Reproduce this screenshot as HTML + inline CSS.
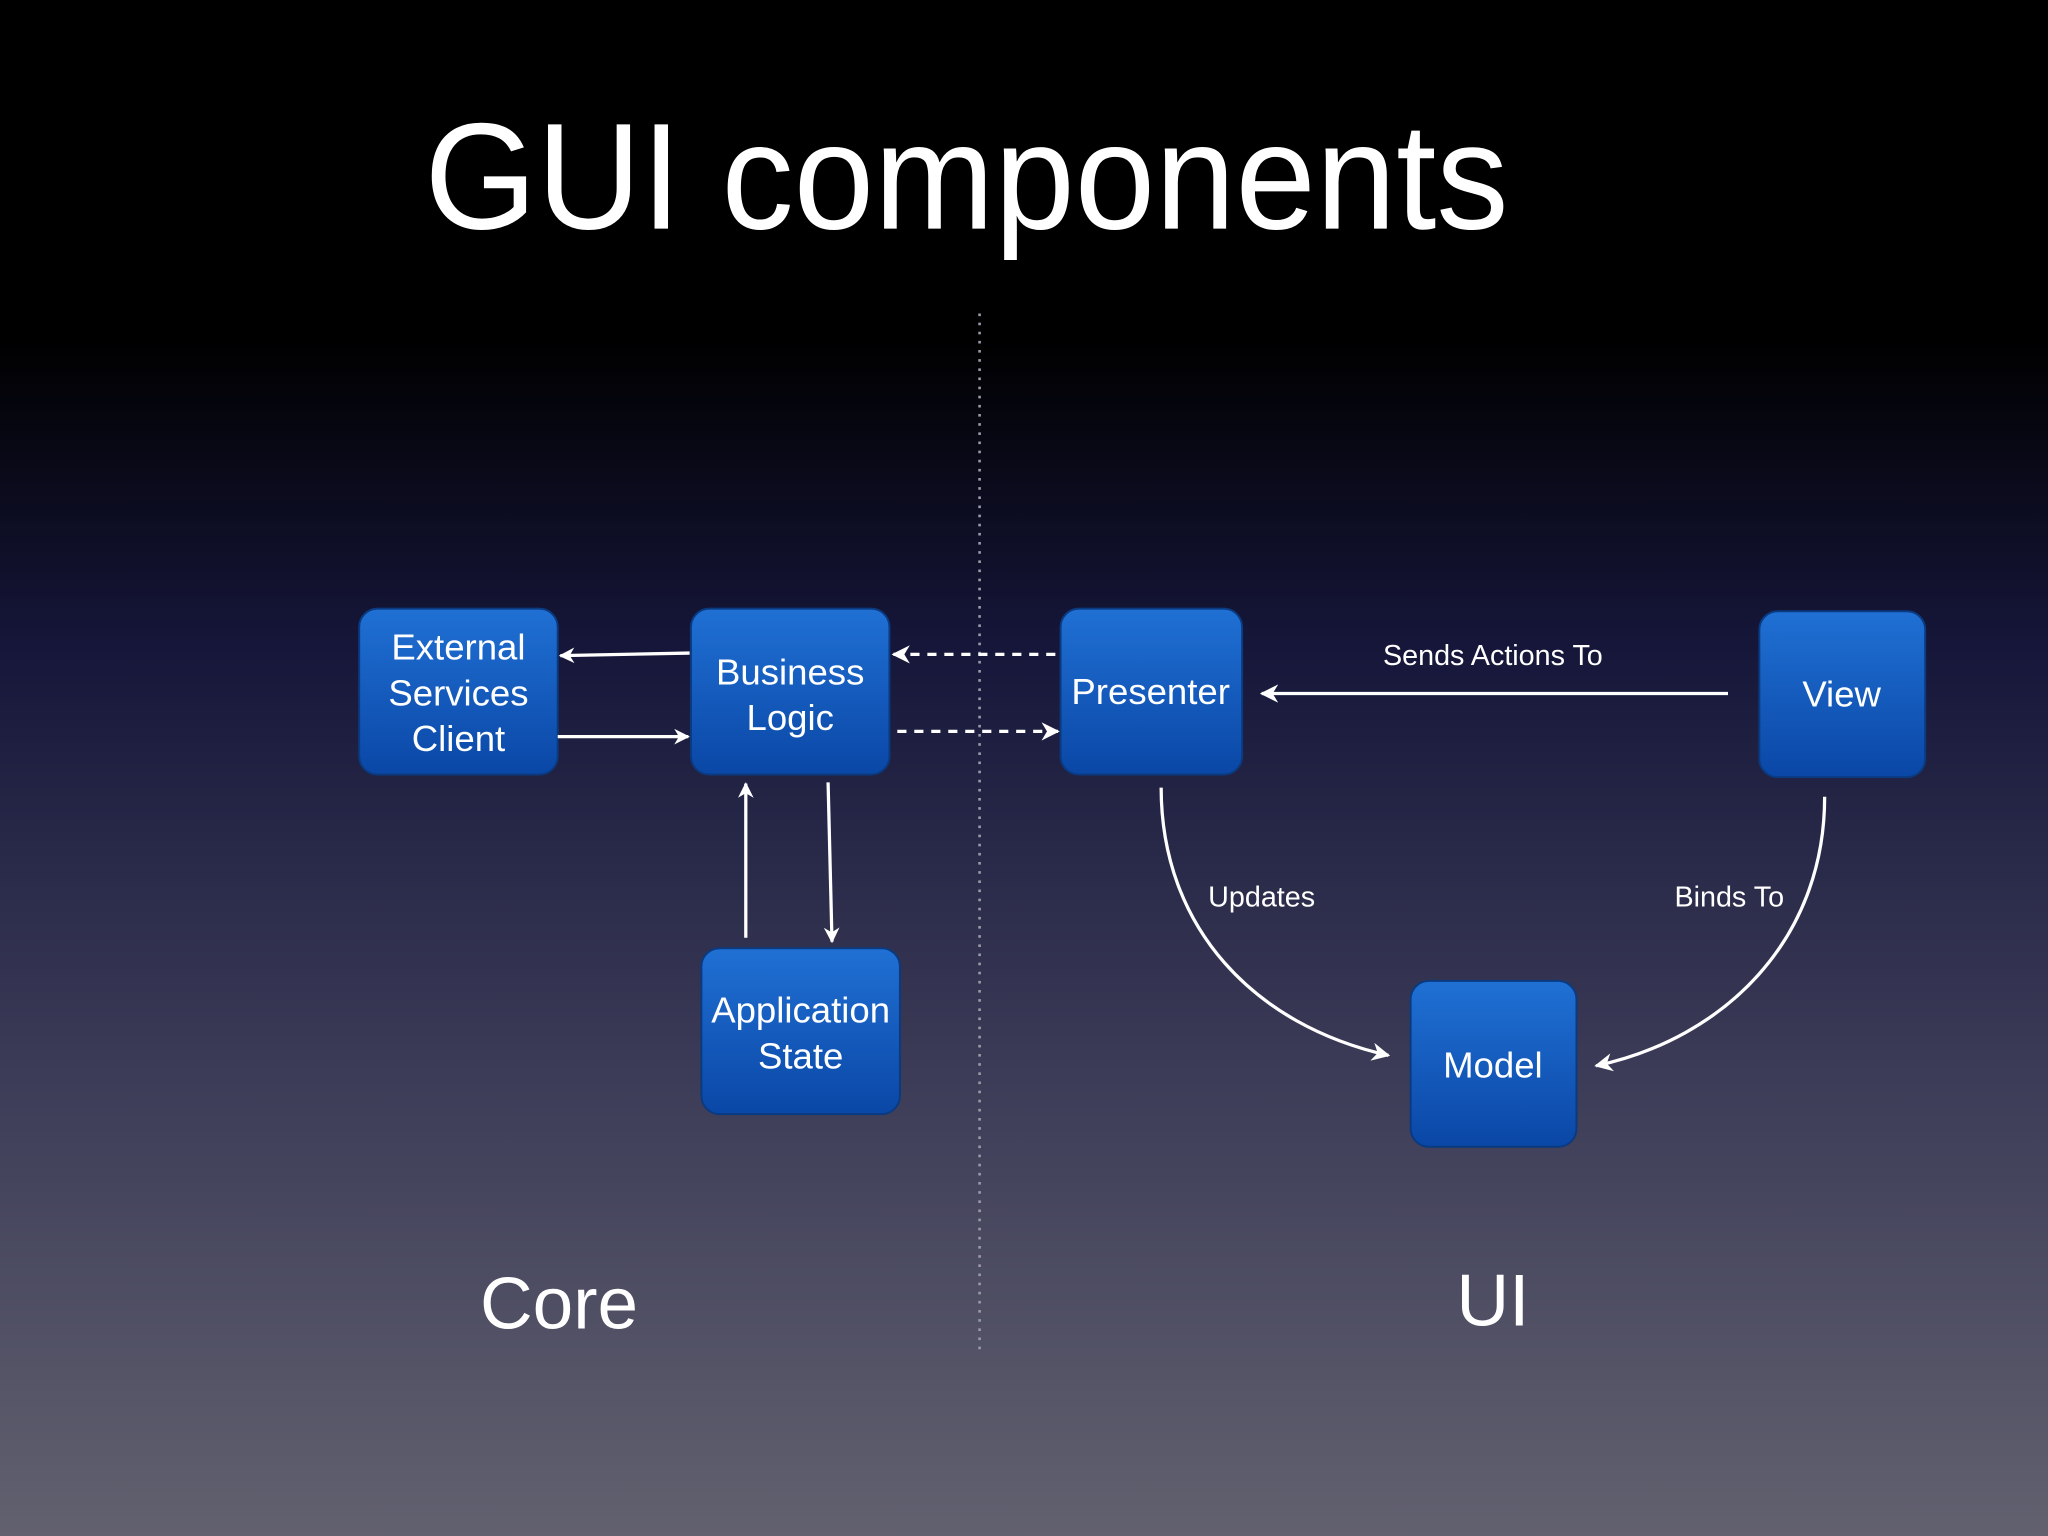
<!DOCTYPE html>
<html><head><meta charset="utf-8"><style>
html,body{margin:0;padding:0;width:2048px;height:1536px;overflow:hidden;background:#000}
svg{display:block}
text{font-family:"Liberation Sans",sans-serif;fill:#fff}
</style></head><body>
<svg width="2048" height="1536" viewBox="0 0 1568 1176" xmlns="http://www.w3.org/2000/svg">
<defs>
<linearGradient id="bg" x1="0" y1="0" x2="0" y2="1">
<stop offset="0" stop-color="#000"/>
<stop offset="0.22" stop-color="#000"/>
<stop offset="0.42" stop-color="#16163a"/>
<stop offset="0.7" stop-color="#3c3c58"/>
<stop offset="1" stop-color="#62616f"/>
</linearGradient>
<linearGradient id="bx" x1="0" y1="0" x2="0" y2="1">
<stop offset="0" stop-color="#2070d4"/>
<stop offset="1" stop-color="#0a47a6"/>
</linearGradient>
<marker id="ah" viewBox="0 0 10 10" refX="9" refY="5" markerWidth="12" markerHeight="12" orient="auto" markerUnits="userSpaceOnUse"><path d="M0,0 L10,5 L0,10 L3,5 Z" fill="#fff"/></marker>
<marker id="ah2" viewBox="0 0 10 10" refX="9" refY="5" markerWidth="14" markerHeight="14" orient="auto" markerUnits="userSpaceOnUse"><path d="M0,0 L10,5 L0,10 L3,5 Z" fill="#fff"/></marker>
</defs>
<rect width="1568" height="1176" fill="url(#bg)"/>
<text x="740" y="175" font-size="116" text-anchor="middle" textLength="830" lengthAdjust="spacingAndGlyphs">GUI components</text>
<line x1="750" y1="240" x2="750" y2="1035" stroke="#9a9aa8" stroke-width="2" stroke-dasharray="2,5"/>
<g fill="url(#bx)" stroke="#0a3a80" stroke-width="1.5">
<rect x="275" y="466" width="152" height="127" rx="14"/>
<rect x="529" y="466" width="152" height="127" rx="14"/>
<rect x="537" y="726" width="152" height="127" rx="14"/>
<rect x="812" y="466" width="139" height="127" rx="14"/>
<rect x="1347" y="468" width="127" height="127" rx="14"/>
<rect x="1080" y="751" width="127" height="127" rx="14"/>
</g>
<g font-size="28" text-anchor="middle">
<text x="351" y="505">External</text><text x="351" y="540">Services</text><text x="351" y="575">Client</text>
<text x="605" y="524">Business</text><text x="605" y="559">Logic</text>
<text x="613" y="783">Application</text><text x="613" y="818">State</text>
<text x="881" y="539">Presenter</text>
<text x="1410" y="541">View</text>
<text x="1143" y="825">Model</text>
</g>
<g stroke="#fff" stroke-width="2.5" fill="none">
<line x1="528" y1="500" x2="429" y2="502" marker-end="url(#ah)"/>
<line x1="427" y1="564" x2="527" y2="564" marker-end="url(#ah)"/>
<line x1="808" y1="501" x2="684" y2="501" stroke-dasharray="7,6" marker-end="url(#ah2)"/>
<line x1="687" y1="560" x2="810" y2="560" stroke-dasharray="7,6" marker-end="url(#ah2)"/>
<line x1="1323" y1="531" x2="966" y2="531" marker-end="url(#ah2)"/>
<line x1="571" y1="718" x2="571" y2="600" marker-end="url(#ah)"/>
<line x1="634" y1="599" x2="637" y2="721" marker-end="url(#ah)"/>
<path d="M889,603 C889,710 960,785 1063,808" marker-end="url(#ah2)"/>
<path d="M1397,610 C1397,720 1320,795 1222,816" marker-end="url(#ah2)"/>
</g>
<g font-size="22">
<text x="1143" y="509" text-anchor="middle">Sends Actions To</text>
<text x="925" y="694">Updates</text>
<text x="1282" y="694">Binds To</text>
</g>
<text x="428" y="1017" font-size="56" text-anchor="middle" textLength="121" lengthAdjust="spacingAndGlyphs">Core</text>
<text x="1143" y="1015" font-size="56" text-anchor="middle">UI</text>
</svg>
</body></html>
